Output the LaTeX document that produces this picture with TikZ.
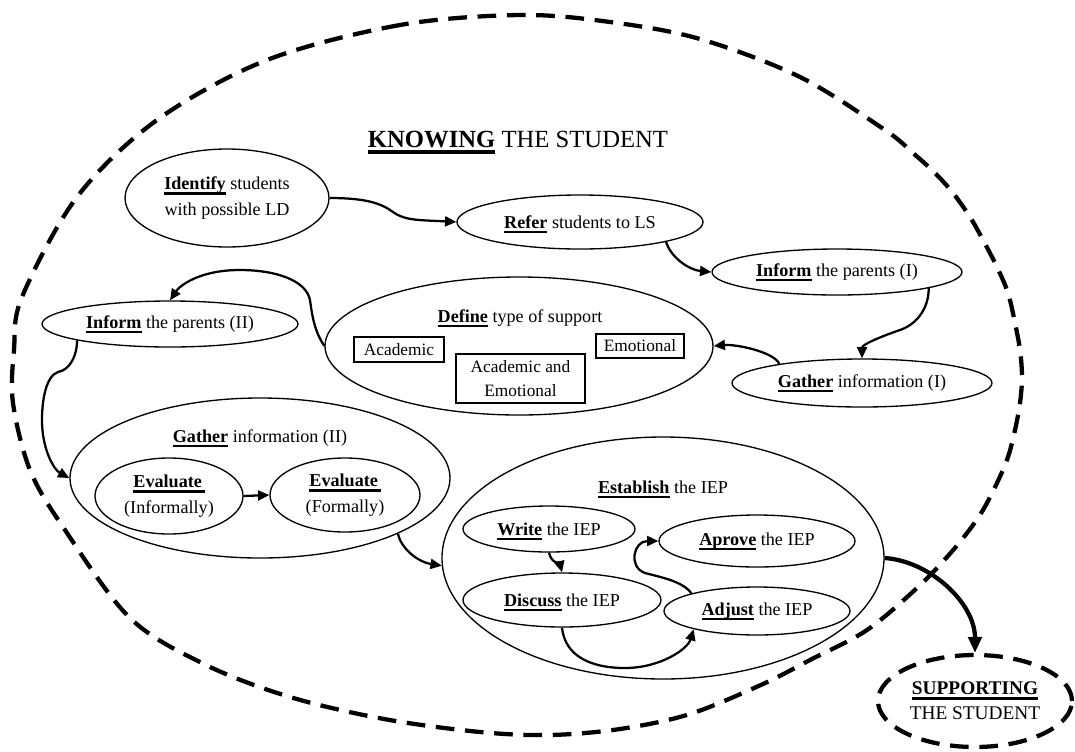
\documentclass[tikz,border=0pt]{standalone}
\usepackage{fontspec}
\setmainfont{Liberation Serif}
\usetikzlibrary{arrows.meta,shapes.geometric}
\newcommand\kw[1]{\setbox0=\hbox{\bfseries #1}\rlap{\smash{\rule[-0.27em]{\wd0}{0.13em}}}\box0\relax}
\tikzset{
  ell/.style={ellipse, draw, line width=1pt, inner sep=0pt, align=center,
    font=\fontsize{13.6}{19}\selectfont},
  sz/.style 2 args={minimum width=#1*1.5pt, minimum height=#2*1.5pt},
  tbox/.style={rectangle, draw, line width=0.8pt, inner sep=0pt, align=center,
    font=\fontsize{13}{18}\selectfont},
  bsz/.style 2 args={minimum width=#1*0.75pt, minimum height=#2*0.75pt},
  lbl/.style={inner sep=0pt, anchor=base, font=\fontsize{13.6}{19}\selectfont},
  conn/.style={line width=1.7pt, -{Triangle[length=8.5pt,width=7.5pt]}},
  bigconn/.style={line width=3.2pt, -{Triangle[length=12pt,width=10pt]}},
  bigdash/.style={line width=3.2pt, dash pattern=on 14pt off 8pt}
}
\begin{document}
\begin{tikzpicture}[x=0.75pt,y=-0.75pt]
\useasboundingbox (0,0) rectangle (1075,751);
% outer dashed outline
\draw[bigdash] plot[smooth cycle, tension=0.55] coordinates {
 (520,15) (400,25) (267,60) (157,120) (77,197) (22,297) (14,350) (13,403) (30,470)
 (63,527) (130,618) (206,665) (290,697) (384,719) (480,732) (550,735) (620,729)
 (690,714) (763,684) (810,660) (867,630) (917,588) (947,557) (967,533) (983,510)
 (997,483) (1008,457) (1015,430) (1020,403) (1022,377) (1020,350) (1015,323)
 (1008,293) (997,267) (983,240) (970,217) (953,193) (935,173) (913,153) (885,130)
 (800,77) (700,39) (610,22)};
\node[lbl, font=\fontsize{18.5}{22}\selectfont] (title) at (518,147) {\kw{KNOWING} THE STUDENT};

\node[ell, sz={102}{49}] (identify) at (227,198) {\kw{Identify} students\\with possible LD};
\node[ell, sz={123}{27}] (refer) at (580,222) {\kw{Refer} students to LS};
\node[ell, sz={125}{23}] (inform1) at (837,272) {\kw{Inform} the parents (I)};
\node[ell, sz={130}{24}] (gather1) at (862,383) {\kw{Gather} information (I)};

\node[ell, sz={194}{69}] (define) at (519,346) {};
\node[lbl] (defineT) at (520,322) {\kw{Define} type of support};
\node[tbox, bsz={90}{25}] (acad) at (399,349.5) {Academic};
\node[tbox, bsz={129}{49}] (academo) at (520.5,378.5) {Academic and\\Emotional};
\node[tbox, bsz={88}{24}] (emot) at (640,346) {Emotional};

\node[ell, sz={128}{23}] (inform2) at (170,324) {\kw{Inform} the parents (II)};

\node[ell, sz={190}{80}] (gather2) at (260,478) {};
\node[lbl] (gather2T) at (260,442) {\kw{Gather} information (II)};
\node[ell, sz={74}{38}] (evalI) at (169,496) {\kw{Evaluate\kern2pt}\\(Informally)};
\node[ell, sz={75}{37}] (evalF) at (345,495) {\kw{Evaluate\kern2pt}\\(Formally)};

\node[ell, sz={221}{121}] (establish) at (663,558) {};
\node[lbl] (establishT) at (663,493) {\kw{Establish} the IEP};
\node[ell, sz={86}{23}] (write) at (549,529) {\kw{Write} the IEP};
\node[ell, sz={98}{26}] (aprove) at (757,541) {\kw{Aprove} the IEP};
\node[ell, sz={99}{27}] (discuss) at (562,600) {\kw{Discuss} the IEP};
\node[ell, sz={93}{24}] (adjust) at (757,611) {\kw{Adjust} the IEP};

\node[ellipse, draw, bigdash, inner sep=0pt, align=center, sz={97}{46},
  font=\fontsize{14.5}{19}\selectfont] (support) at (975,701) {\kw{SUPPORTING}\\THE STUDENT};

% connectors
\draw[conn] (identify.east) .. controls +(35,0) and +(-12,-9) .. (393,212)
  .. controls +(12,9) and +(-35,-2) .. (refer.west);
\draw[conn] (refer.-13) .. controls +(5,16) and +(-22,-2) .. (inform1.west);
\draw[conn] (inform1.-10) .. controls +(0,22) and +(15,-5) .. (900,330)
  .. controls +(-15,5) and +(0,-14) .. (gather1.north);
\draw[conn] (gather1.167) .. controls +(-5,-12) and +(22,-2) .. (define.east);
\draw[conn] (define.west) .. controls +(-10,-15) and +(2,15) .. (310,300)
  .. controls +(-4,-20) and +(35,0) .. (240,270)
  .. controls +(-40,0) and +(10,-15) .. (inform2.north);
\draw[conn] (inform2.190) .. controls +(0,15) and +(12,-2) .. (58,372)
  .. controls +(-12,4) and +(0,-20) .. (42,420)
  .. controls +(0,30) and +(-15,-8) .. (gather2.west);
\draw[conn] (evalI.east) -- (evalF.west);
\draw[conn] (gather2.-22) .. controls +(3,14) and +(-25,-4) .. (establish.182);
\draw[conn] (write.south) .. controls +(2,10) and +(-2,-8) .. (discuss.north);
\draw[conn] (discuss.south) .. controls +(3,28) and +(-35,0) .. (625,668)
  .. controls +(35,0) and +(-6,20) .. (adjust.196);
\draw[conn] (adjust.165) .. controls +(-8,-12) and +(15,4) .. (645,573)
  .. controls +(-17,-6) and +(-25,0) .. (aprove.west);
\draw[bigconn] (establish.east) .. controls +(45,3) and +(0,-50) .. (support.north);
\end{tikzpicture}
\end{document}
